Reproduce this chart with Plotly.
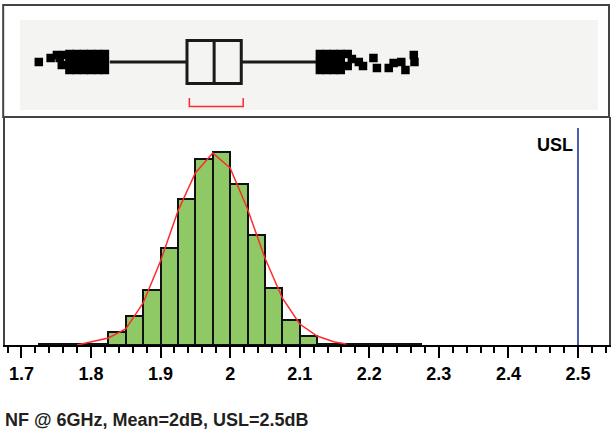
import plotly.graph_objects as go

# ---------------- data ----------------
bin_left = [1.725, 1.75, 1.775, 1.8, 1.825, 1.85, 1.875, 1.9, 1.925, 1.95, 1.975,
            2.0, 2.025, 2.05, 2.075, 2.1, 2.125, 2.15, 2.175, 2.2, 2.225, 2.25]
counts = [0.6, 0.6, 0.6, 1.5, 13, 29, 55, 97, 146, 186, 193,
          161, 110, 57, 25, 9, 1.5, 0.8, 0.6, 0.6, 0.6, 0.6]
bin_width = 0.025

curve_x = [1.78, 1.80, 1.825, 1.85, 1.875, 1.90, 1.925, 1.95, 1.975, 2.00,
           2.025, 2.05, 2.075, 2.10, 2.125, 2.15, 2.167]
curve_y = [0, 3, 7, 16, 42, 84, 134, 172, 192, 177, 136, 87, 47, 21, 9, 3, 1]

q1 = [1.938]
median = [1.977]
q3 = [2.016]
lower_whisker = [1.827]
upper_whisker = [2.124]
shortest_half = [1.9414, 2.0188]

outlier_x = [1.725, 1.742, 1.751, 1.755, 1.758, 1.762,
             1.769, 1.769, 1.769, 1.779, 1.779, 1.779, 1.790, 1.790, 1.790,
             1.800, 1.800, 1.800, 1.810, 1.810, 1.810, 1.820, 1.820, 1.820,
             2.129, 2.129, 2.129, 2.139, 2.139, 2.139, 2.149, 2.149, 2.149,
             2.159, 2.159, 2.159, 2.169, 2.169, 2.175,
             2.185, 2.191, 2.206, 2.211, 2.228, 2.235, 2.246, 2.252, 2.264, 2.265]
outlier_off = [0, 4, 7, 4, -3, 7,
               8, 0, -8, 8, 0, -8, 8, 0, -8,
               8, 0, -8, 8, 0, -8, 8, 0, -8,
               8, 0, -8, 8, 0, -8, 8, 0, -8,
               8, 0, -8, 8, -4, 3,
               0, -4, 4, -6, -6, -1, 0, -8, 7, 0]

usl = 2.5
tick_vals = [1.7, 1.8, 1.9, 2.0, 2.1, 2.2, 2.3, 2.4, 2.5]
tick_text = ["1.7", "1.8", "1.9", "2", "2.1", "2.2", "2.3", "2.4", "2.5"]
title_text = "NF @ 6GHz, Mean=2dB, USL=2.5dB"

# ---------------- figure ----------------
FONT = "Liberation Sans, Arial, sans-serif"
XR = [1.6764, 2.5446]
box_center = 55

fig = go.Figure()

fig.add_trace(go.Bar(
    x=[b + bin_width / 2 for b in bin_left], y=counts, width=bin_width,
    marker=dict(color="#8fc965", line=dict(color="#111111", width=2)),
    xaxis="x", yaxis="y", showlegend=False, hoverinfo="skip"))

fig.add_trace(go.Scatter(
    x=curve_x, y=curve_y, mode="lines",
    line=dict(color="#ff2a2a", width=1.5),
    xaxis="x", yaxis="y", showlegend=False))

fig.add_trace(go.Scatter(
    x=[usl, usl], y=[0, 217], mode="lines",
    line=dict(color="#4a5ab4", width=2),
    xaxis="x", yaxis="y", showlegend=False))

fig.add_trace(go.Box(
    orientation="h", y=[box_center], q1=q1, median=median, q3=q3,
    lowerfence=lower_whisker, upperfence=upper_whisker,
    width=43, whiskerwidth=0, boxpoints=False,
    fillcolor="#f4f4f2", line=dict(color="#1a1a1a", width=3),
    xaxis="x2", yaxis="y2", showlegend=False))

fig.add_trace(go.Scatter(
    x=outlier_x, y=[box_center + o for o in outlier_off], mode="markers",
    marker=dict(symbol="square", size=8.5, color="black", line=dict(width=0)),
    xaxis="x2", yaxis="y2", showlegend=False))

fig.add_trace(go.Scatter(
    x=[shortest_half[0], shortest_half[0], shortest_half[1], shortest_half[1]],
    y=[19, 10.5, 10.5, 19], mode="lines",
    line=dict(color="#ff2a2a", width=1.5),
    xaxis="x2", yaxis="y2", showlegend=False))

h_top = 228 / 340

fig.update_layout(
    width=613, height=437,
    margin=dict(l=5, r=2, t=5, b=92),
    paper_bgcolor="white", plot_bgcolor="white",
    bargap=0,
    xaxis=dict(domain=[0, 1], range=XR, tickvals=tick_vals, ticktext=tick_text,
               ticks="outside", ticklen=11, tickwidth=2, tickcolor="black",
               showline=True, linecolor="black", linewidth=2,
               showgrid=False, zeroline=False,
               tickfont=dict(family=FONT, size=18, color="black", weight="bold"),
               minor=dict(dtick=0.02, tick0=1.7, ticks="outside", ticklen=6,
                          tickwidth=2, tickcolor="black", showgrid=False)),
    yaxis=dict(domain=[0, h_top], range=[0, 228], showticklabels=False,
               ticks="", showgrid=False, zeroline=False,
               showline=True, linecolor="#444444", linewidth=2, mirror=True),
    xaxis2=dict(anchor="y2", matches="x", range=XR, visible=False),
    yaxis2=dict(domain=[h_top, 1], range=[0, 112], visible=False),
    shapes=[
        dict(type="rect", xref="x2", yref="y2", x0=1.6979, x1=2.5287, y0=7, y1=97,
             fillcolor="#f4f4f2", line=dict(width=0), layer="below"),
        dict(type="rect", xref="paper", yref="paper", x0=-0.003, x1=1.0,
             y0=h_top, y1=1.0, line=dict(color="#444444", width=2)),
    ],
    annotations=[
        dict(text="USL", xref="x", yref="y", x=2.496, y=200, xanchor="right",
             yanchor="middle", showarrow=False,
             font=dict(family=FONT, size=18, color="black", weight="bold")),
        dict(text=title_text, xref="paper", yref="paper", x=-0.003, y=-0.222,
             xanchor="left", yanchor="middle", showarrow=False,
             font=dict(family=FONT, size=18, color="#231f20", weight="bold")),
    ],
)

fig.write_html("out.html")
